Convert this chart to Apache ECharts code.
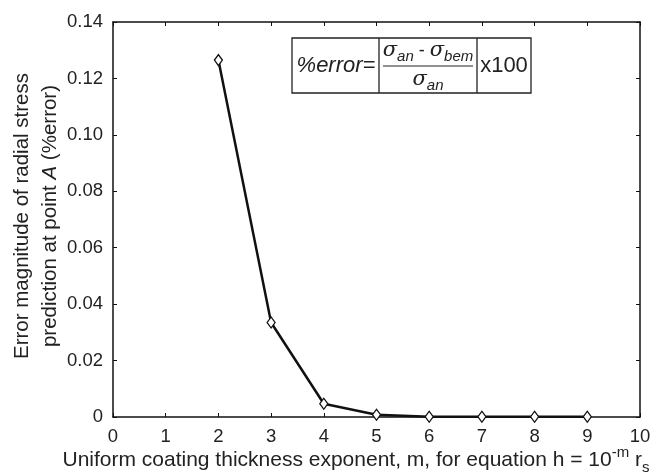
<!DOCTYPE html>
<html><head><meta charset="utf-8">
<script src="https://cdn.jsdelivr.net/npm/echarts@6/dist/echarts.min.js"></script>
<style>html,body{margin:0;padding:0;background:#fff}#c{width:654px;height:476px}</style>
</head><body><div id="c"></div>
<script>
var mValues = [2, 3, 4, 5, 6, 7, 8, 9];
var errorValues = [0.1265, 0.0335, 0.0047, 0.0008, 0.0001, 0.0001, 0.0001, 0.0001];
var yTicks = ['0', '0.02', '0.04', '0.06', '0.08', '0.10', '0.12', '0.14'];

var FONT = 'Liberation Sans, Arial, sans-serif';
var chart = echarts.init(document.getElementById('c'));
var data = mValues.map(function (m, i) { return [m, errorValues[i]]; });

function axisLine() { return { show: true, onZero: false, lineStyle: { color: '#111', width: 1.5 } }; }
function axisTick() { return { show: true, inside: true, length: 4, lineStyle: { color: '#111', width: 1 } }; }

chart.setOption({
  animation: false,
  backgroundColor: '#fff',
  grid: { left: 113, top: 22, right: 14, bottom: 59 },
  xAxis: [
    { type: 'value', min: 0, max: 10, interval: 1, position: 'bottom',
      axisLine: axisLine(), axisTick: axisTick(), splitLine: { show: false },
      axisLabel: { color: '#222', fontFamily: FONT, fontSize: 18.5, margin: 10 } },
    { type: 'value', min: 0, max: 10, interval: 1, position: 'top',
      axisLine: axisLine(), axisTick: axisTick(), splitLine: { show: false },
      axisLabel: { show: false } }
  ],
  yAxis: [
    { type: 'value', min: 0, max: 0.14, interval: 0.02, position: 'left',
      axisLine: axisLine(), axisTick: axisTick(), splitLine: { show: false },
      axisLabel: { color: '#222', fontFamily: FONT, fontSize: 18.5, margin: 10,
        formatter: function (v) { return yTicks[Math.round(v / 0.02)]; } } },
    { type: 'value', min: 0, max: 0.14, interval: 0.02, position: 'right',
      axisLine: axisLine(), axisTick: axisTick(), splitLine: { show: false },
      axisLabel: { show: false } }
  ],
  series: [{
    type: 'line',
    data: data,
    xAxisIndex: 0, yAxisIndex: 0,
    symbol: 'diamond',
    symbolSize: [8, 11],
    showAllSymbol: true,
    lineStyle: { color: '#111', width: 2.5 },
    itemStyle: { color: '#fff', borderColor: '#111', borderWidth: 1.3 }
  }],
  graphic: [
    {
      type: 'text', x: 356, y: 460,
      style: {
        text: 'Uniform coating thickness exponent, m, for equation h = 10{sup|-m} r{sub|s}',
        fill: '#222', font: '21px ' + FONT, align: 'center', verticalAlign: 'middle',
        lineHeight: 30,
        rich: {
          sup: { fontSize: 15, fontFamily: FONT, fill: '#222', verticalAlign: 'top', lineHeight: 30 },
          sub: { fontSize: 15, fontFamily: FONT, fill: '#222', verticalAlign: 'bottom', lineHeight: 30 }
        }
      }
    },
    {
      type: 'text', x: 36, y: 216, rotation: Math.PI / 2,
      style: {
        text: 'Error magnitude of radial stress\nprediction at point {i|A} (%error)',
        fill: '#222', font: '20.5px ' + FONT,
        align: 'center', verticalAlign: 'middle', lineHeight: 28,
        rich: { i: { fontStyle: 'italic', fontSize: 20.5, fontFamily: FONT, fill: '#222', lineHeight: 28 } }
      }
    },
    { type: 'rect', shape: { x: 292, y: 38, width: 239, height: 55 },
      style: { fill: '#fff', stroke: '#222', lineWidth: 1.3 }, z: 10 },
    { type: 'line', shape: { x1: 379, y1: 38, x2: 379, y2: 93 }, style: { stroke: '#222', lineWidth: 1.3 }, z: 11 },
    { type: 'line', shape: { x1: 477, y1: 38, x2: 477, y2: 93 }, style: { stroke: '#222', lineWidth: 1.3 }, z: 11 },
    { type: 'line', shape: { x1: 383, y1: 66, x2: 473, y2: 66 }, style: { stroke: '#222', lineWidth: 1 }, z: 11 },
    { type: 'text', x: 336, y: 66, z: 11,
      style: { text: '%error=', font: 'italic 22px ' + FONT, fill: '#222', align: 'center', verticalAlign: 'middle' } },
    { type: 'text', x: 504, y: 66, z: 11,
      style: { text: 'x100', font: '22px ' + FONT, fill: '#222', align: 'center', verticalAlign: 'middle' } },
    { type: 'text', x: 428, y: 51, z: 11,
      style: {
        text: '{s|σ}{sub|an}{n| - }{s|σ}{sub|bem}', align: 'center', verticalAlign: 'middle',
        fill: '#222', font: '18px ' + FONT,
        rich: {
          s: { fontSize: 21, fontStyle: 'italic', fontFamily: 'DejaVu Serif, serif', fill: '#222', lineHeight: 26, verticalAlign: 'middle' },
          sub: { fontSize: 15, fontStyle: 'italic', fontFamily: FONT, fill: '#222', lineHeight: 26, verticalAlign: 'bottom' },
          n: { fontSize: 18, fontFamily: FONT, fill: '#222', lineHeight: 26 }
        }
      } },
    { type: 'text', x: 428, y: 80, z: 11,
      style: {
        text: '{s|σ}{sub|an}', align: 'center', verticalAlign: 'middle',
        fill: '#222', font: '18px ' + FONT,
        rich: {
          s: { fontSize: 21, fontStyle: 'italic', fontFamily: 'DejaVu Serif, serif', fill: '#222', lineHeight: 26, verticalAlign: 'middle' },
          sub: { fontSize: 15, fontStyle: 'italic', fontFamily: FONT, fill: '#222', lineHeight: 26, verticalAlign: 'bottom' }
        }
      } }
  ]
});
</script></body></html>
